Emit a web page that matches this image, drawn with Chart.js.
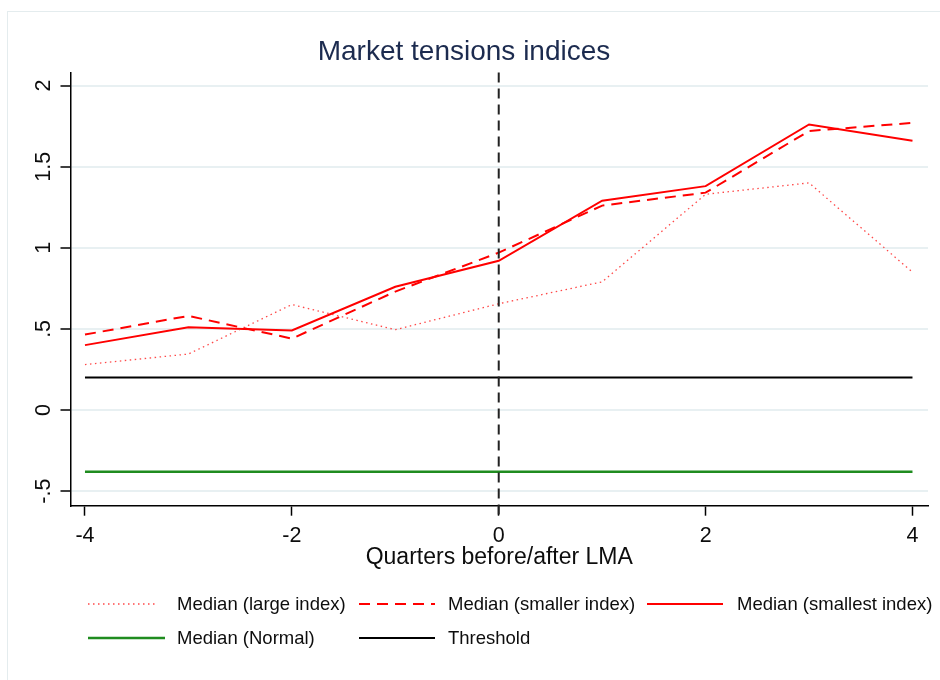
<!DOCTYPE html>
<html>
<head>
<meta charset="utf-8">
<script src="https://cdn.jsdelivr.net/npm/chart.js@4.4.0/dist/chart.umd.min.js"></script>
<style>
    html, body { margin: 0; padding: 0; background: #fff; }
    #wrap { position: relative; width: 940px; height: 680px; }
</style>
</head>
<body>
<div id="wrap"><canvas id="tensoes"></canvas></div>
<script>
// Dados do gráfico
const quarters = [-4, -3, -2, -1, 0, 1, 2, 3, 4];
const largeIndex    = [0.28, 0.345, 0.65, 0.495, 0.655, 0.79, 1.33, 1.40, 0.85];
const smallerIndex  = [0.465, 0.58, 0.44, 0.73, 0.97, 1.26, 1.34, 1.72, 1.77];
const smallestIndex = [0.40, 0.51, 0.49, 0.76, 0.92, 1.29, 1.38, 1.76, 1.66];
const normalMedian  = [-0.38, -0.38, -0.38, -0.38, -0.38, -0.38, -0.38, -0.38, -0.38];
const threshold     = [0.2, 0.2, 0.2, 0.2, 0.2, 0.2, 0.2, 0.2, 0.2];
const lmaQuarter = 0;

const xTicks = [-4, -2, 0, 2, 4];
const yTicks = [-0.5, 0, 0.5, 1, 1.5, 2];
const yTickLabels = ['-.5', '0', '.5', '1', '1.5', '2'];

const seriesLabels = [
    'Median (large index)',
    'Median (smaller index)',
    'Median (smallest index)',
    'Median (Normal)',
    'Threshold'
];

const fontFamily = '"Liberation Sans", Arial, Helvetica, sans-serif';

function toPoints(values) {
    return quarters.map((q, i) => ({ x: q, y: values[i] }));
}

// Moldura externa (estilo Stata)
const frame = {
    id: 'frame',
    beforeDraw(chart) {
        const ctx = chart.ctx;
        ctx.save();
        ctx.fillStyle = '#ffffff';
        ctx.fillRect(0, 0, chart.width, chart.height);
        ctx.strokeStyle = '#e4ecee';
        ctx.lineWidth = 1;
        ctx.strokeRect(7.5, 11.5, chart.width + 20, chart.height + 20);
        ctx.restore();
    }
};

// Linha vertical tracejada no trimestre do LMA
const lmaLine = {
    id: 'lmaLine',
    afterDatasetsDraw(chart) {
        const { ctx, chartArea, scales } = chart;
        const x = scales.x.getPixelForValue(lmaQuarter);
        ctx.save();
        ctx.strokeStyle = '#222';
        ctx.lineWidth = 2;
        ctx.setLineDash([10, 6]);
        ctx.beginPath();
        ctx.moveTo(x, chartArea.top);
        ctx.lineTo(x, chartArea.bottom + 10);
        ctx.stroke();
        ctx.restore();
    }
};

// Legenda desenhada à mão (3 + 2 itens)
const legendSlots = [
    { row: 604, x0: 88, x1: 157, tx: 177 },
    { row: 604, x0: 359, x1: 435, tx: 448 },
    { row: 604, x0: 647, x1: 723, tx: 737 },
    { row: 638, x0: 88, x1: 165, tx: 177 },
    { row: 638, x0: 359, x1: 435, tx: 448 }
];

const customLegend = {
    id: 'customLegend',
    afterDraw(chart) {
        const ctx = chart.ctx;
        ctx.save();
        chart.data.datasets.forEach((ds, i) => {
            const s = legendSlots[i];
            ctx.strokeStyle = ds.borderColor;
            ctx.lineWidth = ds.borderWidth;
            ctx.setLineDash(ds.borderDash || []);
            ctx.beginPath();
            ctx.moveTo(s.x0, s.row);
            ctx.lineTo(s.x1, s.row);
            ctx.stroke();
            ctx.setLineDash([]);
            ctx.fillStyle = '#0d0d0d';
            ctx.font = '18.5px ' + fontFamily;
            ctx.textBaseline = 'middle';
            ctx.textAlign = 'left';
            ctx.fillText(ds.label, s.tx, s.row + 1);
        });
        ctx.restore();
    }
};

const ctx = document.getElementById('tensoes').getContext('2d');
const tensoesChart = new Chart(ctx, {
    type: 'line',
    data: {
        datasets: [
            {
                label: seriesLabels[0],
                data: toPoints(largeIndex),
                borderColor: 'rgba(255, 40, 40, 0.85)',
                borderWidth: 1.3,
                borderDash: [1.5, 3.5]
            },
            {
                label: seriesLabels[1],
                data: toPoints(smallerIndex),
                borderColor: '#ff0000',
                borderWidth: 2,
                borderDash: [11, 7]
            },
            {
                label: seriesLabels[2],
                data: toPoints(smallestIndex),
                borderColor: '#ff0000',
                borderWidth: 2
            },
            {
                label: seriesLabels[3],
                data: toPoints(normalMedian),
                borderColor: '#1f8c1f',
                borderWidth: 2.5
            },
            {
                label: seriesLabels[4],
                data: toPoints(threshold),
                borderColor: '#000000',
                borderWidth: 2
            }
        ]
    },
    options: {
        responsive: true,
        maintainAspectRatio: false,
        animation: false,
        elements: {
            point: { radius: 0 },
            line: { tension: 0, fill: false }
        },
        layout: {
            padding: { left: 0, right: 12, top: 0, bottom: 110 }
        },
        scales: {
            x: {
                type: 'linear',
                min: -4.14,
                max: 4.15,
                afterBuildTicks: (s) => { s.ticks = xTicks.map(v => ({ value: v })); },
                afterFit: (s) => { s.height = 64.3; },
                grid: {
                    drawOnChartArea: false,
                    tickColor: '#000',
                    tickLength: 10,
                    tickWidth: 1.5
                },
                border: { color: '#000', width: 1.5 },
                ticks: {
                    color: '#0d0d0d',
                    padding: 7,
                    maxRotation: 0,
                    font: { family: fontFamily, size: 21.5 }
                },
                title: {
                    display: true,
                    text: 'Quarters before/after LMA',
                    color: '#0d0d0d',
                    padding: { top: 0, bottom: -1 },
                    font: { family: fontFamily, size: 23 }
                }
            },
            y: {
                min: -0.59,
                max: 2.08,
                afterBuildTicks: (s) => { s.ticks = yTicks.map(v => ({ value: v })); },
                afterFit: (s) => { s.width = 70.5; },
                grid: {
                    color: '#e8f0f2',
                    lineWidth: 2,
                    tickColor: '#000',
                    tickLength: 10,
                    tickWidth: 1.5
                },
                border: { color: '#000', width: 1.5 },
                ticks: {
                    color: '#0d0d0d',
                    padding: 1,
                    minRotation: 90,
                    maxRotation: 90,
                    crossAlign: 'center',
                    font: { family: fontFamily, size: 21.5 },
                    callback: (value) => {
                        const i = yTicks.indexOf(value);
                        return i >= 0 ? yTickLabels[i] : '';
                    }
                }
            }
        },
        plugins: {
            legend: { display: false },
            tooltip: { enabled: false },
            title: {
                display: true,
                text: 'Market tensions indices',
                color: '#1c2b4f',
                font: { family: fontFamily, size: 28, weight: 'normal' },
                padding: { top: 35, bottom: 4 }
            }
        }
    },
    plugins: [frame, lmaLine, customLegend]
});
</script>
</body>
</html>
